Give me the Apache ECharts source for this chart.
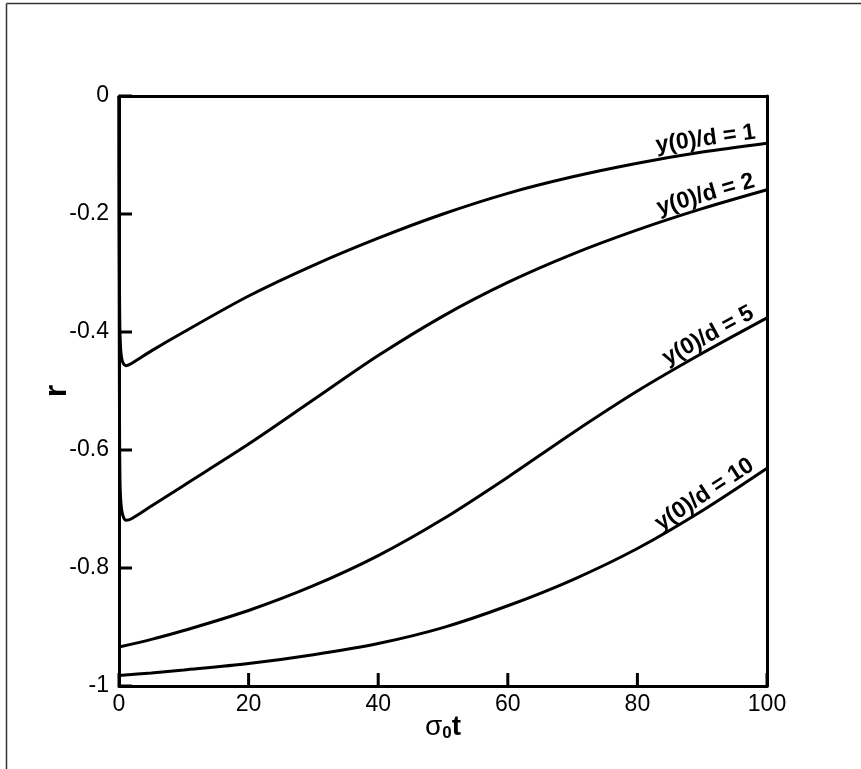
<!DOCTYPE html>
<html>
<head>
<meta charset="utf-8">
<script src="https://cdn.jsdelivr.net/npm/echarts@6/dist/echarts.min.js"></script>
<style>
  html, body { margin: 0; padding: 0; background: #fff; }
  #chart { width: 861px; height: 769px; }
</style>
</head>
<body>
<div id="chart"></div>
<script>
// Axis tick values
const xTicks = [0, 20, 40, 60, 80, 100];
const yTicks = [0, -0.2, -0.4, -0.6, -0.8, -1];

// Time samples: dense near t = 0 for the curves with a fast initial transient
const tFast = [0, 0.03, 0.08, 0.15, 0.3, 0.6, 1.1, 2, 5, 10, 20, 30, 40, 50, 60, 70, 80, 90, 100];
const tSlow = [0, 5, 10, 20, 30, 40, 50, 60, 70, 80, 90, 100];

// r(σ0 t) for each initial separation y(0)/d
const rY1  = [0, -0.20, -0.33, -0.40, -0.435, -0.452, -0.457, -0.453, -0.432, -0.400, -0.339, -0.287, -0.241, -0.200, -0.165, -0.137, -0.114, -0.095, -0.080];
const rY2  = [0, -0.35, -0.55, -0.65, -0.690, -0.711, -0.719, -0.716, -0.695, -0.660, -0.590, -0.515, -0.440, -0.373, -0.316, -0.268, -0.227, -0.191, -0.159];
const rY5  = [-0.934, -0.921, -0.906, -0.872, -0.830, -0.779, -0.717, -0.646, -0.571, -0.500, -0.436, -0.376];
const rY10 = [-0.982, -0.978, -0.973, -0.962, -0.947, -0.928, -0.901, -0.864, -0.820, -0.767, -0.703, -0.631];

const curveNames = ['y(0)/d = 1', 'y(0)/d = 2', 'y(0)/d = 5', 'y(0)/d = 10'];
const curveTimes = [tFast, tFast, tSlow, tSlow];
const curveValues = [rY1, rY2, rY5, rY10];

const FONT = '"Liberation Sans", Arial, Helvetica, sans-serif';
const X_MIN = Math.min(...xTicks), X_MAX = Math.max(...xTicks);
const Y_MIN = Math.min(...yTicks), Y_MAX = Math.max(...yTicks);
const TICK_LEN = 13;

const chart = echarts.init(document.getElementById('chart'), null, { renderer: 'canvas' });

const series = curveNames.map((name, i) => ({
  name: name,
  type: 'line',
  data: curveTimes[i].map((t, k) => [t, curveValues[i][k]]),
  showSymbol: false,
  symbol: 'none',
  smooth: 0.3,
  lineStyle: { color: '#000', width: 3 },
  z: 3,
  silent: true
}));

// Inward-pointing tick marks on the bottom and left axes
series.push({
  type: 'custom',
  coordinateSystem: 'cartesian2d',
  data: [[X_MIN, Y_MIN]],
  silent: true,
  clip: false,
  z: 6,
  renderItem: function (params, api) {
    const children = [];
    xTicks.forEach(v => {
      const p = api.coord([v, Y_MIN]);
      children.push({ type: 'line', shape: { x1: p[0], y1: p[1], x2: p[0], y2: p[1] - TICK_LEN },
        style: { stroke: '#000', lineWidth: 3 } });
    });
    yTicks.forEach(v => {
      const p = api.coord([X_MIN, v]);
      children.push({ type: 'line', shape: { x1: p[0], y1: p[1], x2: p[0] + TICK_LEN, y2: p[1] },
        style: { stroke: '#000', lineWidth: 3 } });
    });
    return { type: 'group', children: children };
  }
});

function boxLine() {
  return { show: true, onZero: false, lineStyle: { color: '#000', width: 3 } };
}

chart.setOption({
  animation: false,
  backgroundColor: '#fff',
  grid: { left: 119, right: 94, top: 96, bottom: 83 },
  xAxis: [{
    type: 'value', min: X_MIN, max: X_MAX, interval: 20, position: 'bottom',
    name: '{s|σ}{sub|0}{t|t}',
    nameLocation: 'middle', nameGap: 27, nameMoveOverlap: false,
    nameTextStyle: {
      rich: {
        s: { fontFamily: FONT, fontSize: 28, color: '#000' },
        sub: { fontFamily: FONT, fontSize: 17, fontWeight: 'bold', color: '#000', padding: [12, 0, 0, 0] },
        t: { fontFamily: FONT, fontSize: 28, fontWeight: 'bold', color: '#000' }
      }
    },
    axisLine: boxLine(),
    axisTick: { show: false },
    axisLabel: { color: '#000', fontFamily: FONT, fontSize: 23, margin: 7 },
    splitLine: { show: false }
  }, {
    type: 'value', min: X_MIN, max: X_MAX, position: 'top',
    axisLine: boxLine(), axisTick: { show: false }, axisLabel: { show: false }, splitLine: { show: false }
  }],
  yAxis: [{
    type: 'value', min: Y_MIN, max: Y_MAX, interval: 0.2, position: 'left',
    name: 'r', nameLocation: 'middle', nameGap: 46, nameRotate: 90, nameMoveOverlap: false,
    nameTextStyle: { fontFamily: FONT, fontSize: 32, fontWeight: 'bold', color: '#000' },
    axisLine: boxLine(),
    axisTick: { show: false },
    axisLabel: { color: '#000', fontFamily: FONT, fontSize: 23, margin: 10 },
    splitLine: { show: false }
  }, {
    type: 'value', min: Y_MIN, max: Y_MAX, position: 'right',
    axisLine: boxLine(), axisTick: { show: false }, axisLabel: { show: false }, splitLine: { show: false }
  }],
  series: series
});

// Curve labels sit along the end of each curve, rotated to its local slope
const labels = curveNames.map((name, i) => {
  const ts = curveTimes[i], rs = curveValues[i];
  const n = ts.length;
  const pEnd = chart.convertToPixel({ seriesIndex: i }, [ts[n - 1], rs[n - 1]]);
  const pPrev = chart.convertToPixel({ seriesIndex: i }, [ts[n - 2], rs[n - 2]]);
  const angle = Math.atan2(pPrev[1] - pEnd[1], pEnd[0] - pPrev[0]);
  return {
    type: 'text',
    x: pEnd[0], y: pEnd[1],
    rotation: angle,
    z: 10,
    style: {
      text: name,
      x: -10, y: -1,
      align: 'right', verticalAlign: 'bottom',
      font: 'bold 23px ' + FONT,
      fill: '#000'
    }
  };
});

// Outer frame edges (left and top)
const frame = [
  { type: 'line', shape: { x1: 6.5, y1: 3.5, x2: 6.5, y2: 769 }, style: { stroke: '#333', lineWidth: 1.5 } },
  { type: 'line', shape: { x1: 6.5, y1: 3.5, x2: 861, y2: 3.5 }, style: { stroke: '#333', lineWidth: 1.5 } }
];

chart.setOption({ graphic: frame.concat(labels) });
</script>
</body>
</html>
